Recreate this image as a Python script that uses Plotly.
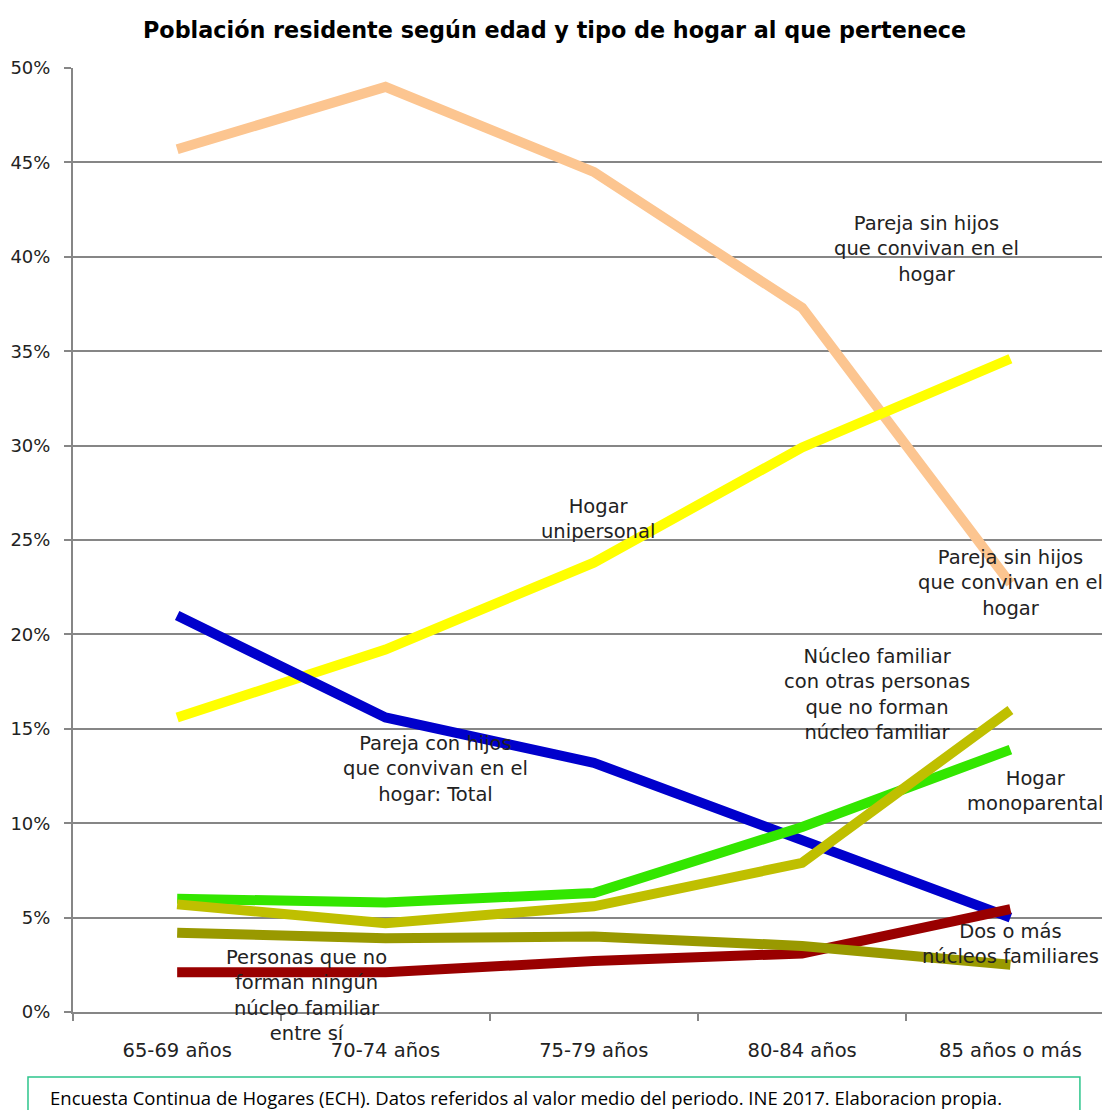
import plotly.graph_objects as go

categories = ["65-69 años", "70-74 años", "75-79 años", "80-84 años", "85 años o más"]

pareja_sin_hijos = [45.7, 49.0, 44.5, 37.3, 22.7]
hogar_unipersonal = [15.6, 19.2, 23.8, 29.9, 34.6]
pareja_con_hijos = [21.0, 15.6, 13.2, 9.1, 5.0]
dos_o_mas_nucleos = [2.1, 2.1, 2.7, 3.1, 5.45]
hogar_monoparental = [6.0, 5.8, 6.3, 9.8, 13.9]
nucleo_con_otras = [5.7, 4.7, 5.6, 7.9, 16.0]
personas_sin_nucleo = [4.2, 3.9, 4.0, 3.5, 2.5]

series = [
    ("Pareja sin hijos que convivan en el hogar", pareja_sin_hijos, "#FCC590"),
    ("Hogar unipersonal", hogar_unipersonal, "#FFFF00"),
    ("Pareja con hijos que convivan en el hogar: Total", pareja_con_hijos, "#0000CC"),
    ("Dos o más núcleos familiares", dos_o_mas_nucleos, "#990000"),
    ("Hogar monoparental", hogar_monoparental, "#33E600"),
    ("Núcleo familiar con otras personas que no forman núcleo familiar", nucleo_con_otras, "#BFBF00"),
    ("Personas que no forman ningún núcleo familiar entre sí", personas_sin_nucleo, "#999900"),
]

# label texts with positions (category index, value)
labels = [
    ("Pareja sin hijos<br>que convivan en el<br>hogar", 3.595, 40.4),
    ("Pareja sin hijos<br>que convivan en el<br>hogar", 4.0, 22.7),
    ("Hogar<br>unipersonal", 2.02, 26.1),
    ("Pareja con hijos<br>que convivan en el<br>hogar: Total", 1.238, 12.87),
    ("Núcleo familiar<br>con otras personas<br>que no forman<br>núcleo familiar", 3.36, 16.84),
    ("Hogar<br>monoparental", 4.118, 11.7),
    ("Dos o más<br>núcleos familiares", 4.0, 3.6),
    ("Personas que no<br>forman ningún<br>núcleo familiar<br>entre sí", 0.62, 0.9),
]

FONT = "DejaVu Sans"

fig = go.Figure()
for name, vals, col in series:
    fig.add_trace(go.Scatter(
        x=categories, y=vals, mode="lines", name=name,
        line=dict(color=col, width=10),
        cliponaxis=False, showlegend=False,
    ))

for text, xi, yv in labels:
    fig.add_annotation(
        x=xi, y=yv, xref="x", yref="y", text=text, showarrow=False,
        font=dict(family=FONT, size=19.5, color="#222222"), align="center",
    )

fig.add_annotation(
    x=0.5, y=1, xref="paper", yref="paper", yshift=38, xshift=-37,
    text="<b>Población residente según edad y tipo de hogar al que pertenece</b>",
    showarrow=False, font=dict(family=FONT, size=22.3, color="#000000"),
    xanchor="center", yanchor="middle",
)

# footer box
fig.add_shape(type="rect", xref="paper", yref="paper",
              x0=-0.0434, x1=0.971, y0=-0.125, y1=-0.0689,
              line=dict(color="#2DC58C", width=1.5), fillcolor="rgba(0,0,0,0)")
fig.add_annotation(
    x=-0.0241, y=-0.0901, xref="paper", yref="paper",
    text="Encuesta Continua de Hogares (ECH). Datos referidos al valor medio del periodo. INE 2017. Elaboracion propia.",
    showarrow=False, xanchor="left", yanchor="middle",
    font=dict(family="Open Sans", size=18.5, color="#000000"),
)

fig.update_layout(
    width=1102, height=1102,
    margin=dict(l=65, r=0, t=60, b=98),
    plot_bgcolor="white", paper_bgcolor="white",
    font=dict(family=FONT, size=17, color="#222222"),
)
fig.update_xaxes(
    type="category", range=[-0.5, 4.478],
    showgrid=False, showline=True, linecolor="#868686", linewidth=2,
    ticks="outside", tickson="boundaries", ticklen=7, tickcolor="#868686", tickwidth=2,
    ticklabelstandoff=20, tickfont=dict(family=FONT, size=19.5, color="#222222"),
)
fig.update_yaxes(
    range=[0, 50], dtick=5, ticksuffix="%",
    showgrid=True, gridcolor="#868686", gridwidth=2,
    showline=True, linecolor="#868686", linewidth=2,
    ticks="outside", ticklen=7, tickcolor="#868686", tickwidth=2,
    ticklabelstandoff=10, tickfont=dict(family=FONT, size=18, color="#222222"),
    zeroline=False,
)

fig.write_html("out.html")
